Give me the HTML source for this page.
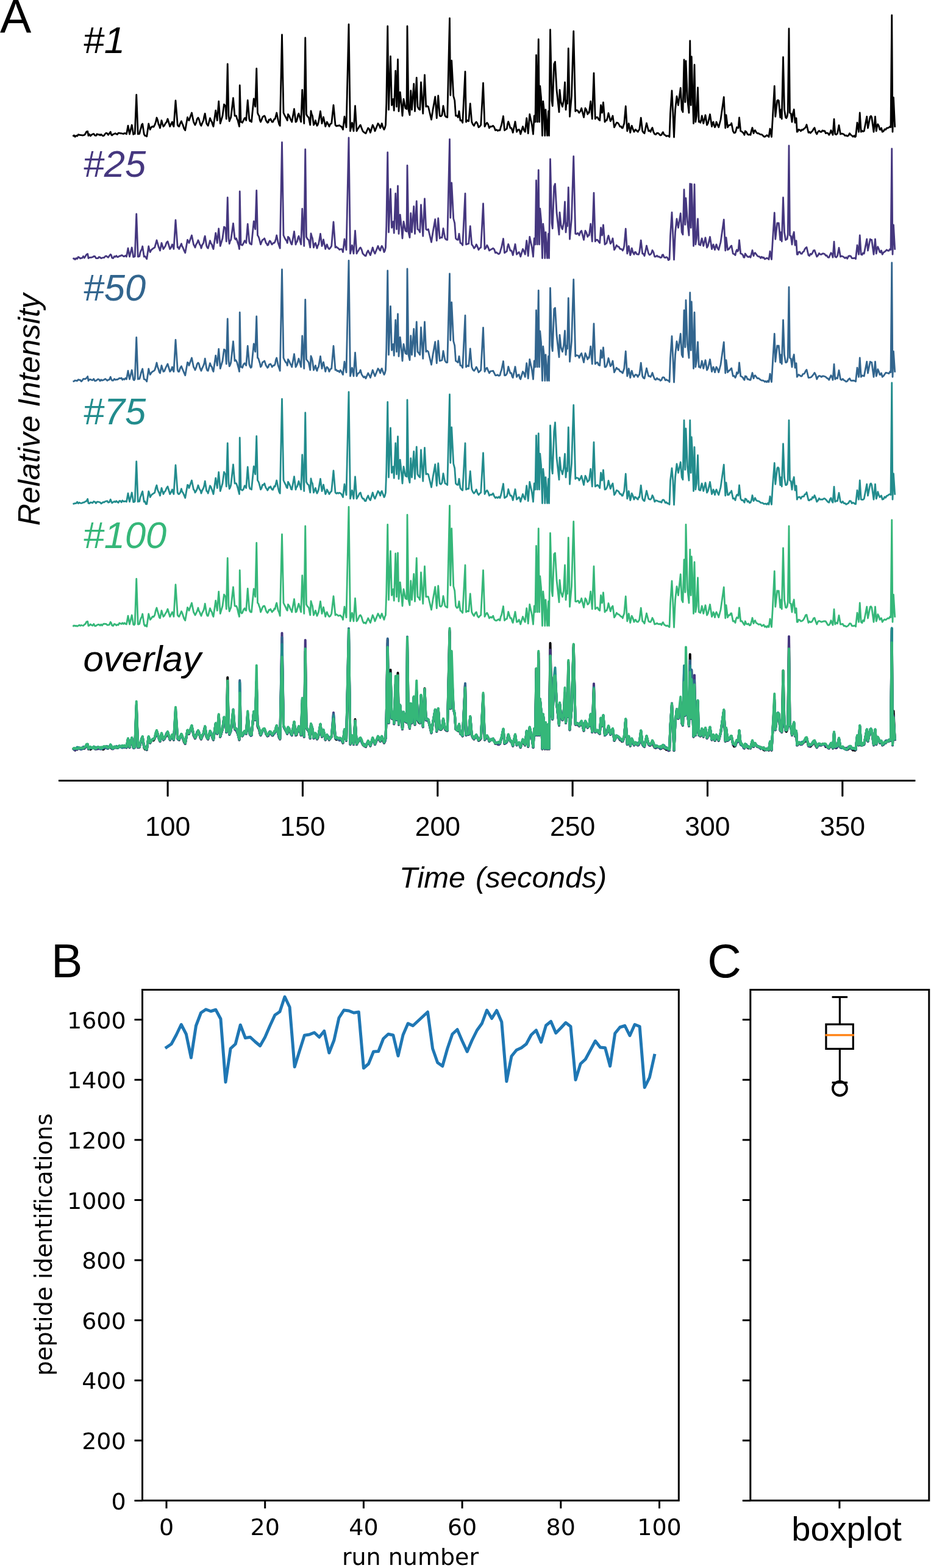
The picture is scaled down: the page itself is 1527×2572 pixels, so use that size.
<!DOCTYPE html>
<html><head><meta charset="utf-8"><title>Figure</title>
<style>
html,body{margin:0;padding:0;background:#fff;}
svg{display:block}
.lab{font-family:"Liberation Sans",Arial,sans-serif}
.it{font-family:"Liberation Sans",Arial,sans-serif;font-style:italic}
.dv{font-family:"DejaVu Sans",sans-serif;font-variant-ligatures:none;font-kerning:none}
</style></head><body>
<svg width="1527" height="2572" viewBox="0 0 1527 2572">
<rect width="1527" height="2572" fill="#fff"/>

<text class="lab" x="0" y="54" font-size="77">A</text>
<text class="lab" x="84" y="1602.8" font-size="77">B</text>
<text class="lab" x="1160.3" y="1602.8" font-size="77">C</text>
<defs><path id="tr1" d="M119.5 223.75L121.33 221.87L123.17 224.31L125 222.5L126.67 223.14L128.33 220.69L130 221.25L131.67 221.48L133.33 221.55L135 222L136.67 221.77L138.33 221.49L140 219.5L141.88 215.88L143.75 215.5L145 222.5L146.67 220.2L148.33 223.01L150 221.25L151.88 220.11L153.75 219.5L155.62 222.05L157.5 222.5L159.17 219.84L160.83 220.95L162.5 220.5L164.17 221.89L165.83 220.42L167.5 222L169.17 222.95L170.83 221.94L172.5 219.5L174.17 218.21L175.83 218.77L177.5 221.25L179.38 218.92L181.25 216.25L182.5 220.88L183.75 222L185.62 220.27L187.5 219.5L189.17 218.7L190.83 219.86L192.5 220.5L194.17 218.03L195.83 218.22L197.5 218.75L199.17 218.75L200.83 219.23L202.5 219.5L204.17 218.6L205.83 218.76L207.5 220L210 206.25L212.5 220L216.25 205L218.75 220.5L220 218.88L221.25 219.5L223.75 155.5L226.25 220L227.5 219.59L228.75 219.5L230 213.91L231.25 210L232.5 204.59L233.75 203L236.25 220L237.75 222.6L239.25 222.73L240.75 223.75L243.75 203L245 208.32L246.25 212.5L248.12 208.74L250 207.5L251.88 208.22L253.75 205L255.38 200.44L257 193L258.5 196.86L260 203.75L261.25 206.21L262.5 210L265 197.5L266.5 203.39L268 207.5L269.62 205.84L271.25 202.5L273.12 200.5L275 195L278.75 207.5L280.62 203.44L282.5 200L283.75 205.07L285 207.5L288 165L291.25 205L292.5 206.93L293.75 207.5L295.62 202.34L297.5 198.75L298.75 202.23L300 205L301.88 210.9L303.75 213.75L307.5 192.5L308.75 196.38L310 197.5L314.5 185L317.5 200L318.75 202.52L320 205L321.67 201.36L323.33 195.14L325 193L326.25 195.47L327.5 200L328.75 204.31L330 206.25L331.88 201.53L333.75 197.5L335 190.57L336.25 186.25L338.75 202.5L340 204.57L341.25 206.25L344.5 193.75L346 197.69L347.5 200L348.75 204.45L350 207.5L353.75 181.25L356.25 197.5L358.75 166.25L361.25 202.5L365 190L367.5 171.25L368.75 172.62L370 175L371.25 195L373.25 105L375 190L376.25 198.75L377.5 195.38L378.75 192.5L382.5 160.75L385 190L386.25 190.03L387.5 190L388.75 194.86L390 197.5L391.25 202.58L392.5 207.5L393.25 140L395 200L396.25 200.2L397.5 201.25L399.38 197.46L401.25 193.75L402.5 193.74L403.75 197.5L406.25 164.5L408.75 195L410 198.75L411.25 197.55L412.5 200L416.25 162L418.75 175L420.75 112.5L422.5 185L423.75 188.31L425 190L426.25 196.93L427.5 200L429 196.62L430.5 192.5L432.12 190.82L433.75 190L435 192.43L436.25 197.5L437.5 199.38L438.75 201.25L440 200.68L441.25 196.25L442.5 196.71L443.75 195L445 197.66L446.25 200L447.5 200.19L448.75 197.5L450 195.18L451.25 195L452.5 190.06L453.75 185L456.25 197.5L457.75 203.68L459.25 206.25L462.5 57L465 185L466.88 189.06L468.75 192.5L470 194.84L471.25 197.5L472.5 187.5L474.38 190.33L476.25 195L477.5 197.69L478.75 200L482.5 178.75L485 200L486.25 199.33L487.5 195L488.75 188.65L490 186.25L493.75 200L495.75 147.5L498.75 202.5L500.75 62L502.5 187.5L504.38 191.13L506.25 192.5L508.75 205L510 182L511.25 187.28L512.5 190L514.5 205L516 202.79L517.5 197.5L518.75 202.84L520 206.25L521.25 204.36L522.5 200L525.5 182.5L528 202.5L529.25 197.32L530.5 192L533.75 207.5L535 204L536.25 200L538.12 203.45L540 207.5L541.88 203.22L543.75 202.5L547 172.5L550 205L551.67 206.9L553.33 206.11L555 206.25L556.67 205.47L558.33 207.1L560 207.5L561.25 209.94L562.5 212.5L565 191.25L568 208.75L572 40L574.5 215L577.5 201.25L580 215L582.5 173.75L585 215L586.5 211.93L588 210L589.62 206.88L591.25 205L593.12 210.15L595 215L596.67 216.74L598.33 217.95L600 218.75L601.88 214.21L603.75 210L605.62 211.86L607.5 217.5L611.25 205L613.12 208.92L615 215L620 202.5L621.88 204.96L623.75 210L625 206.59L626.25 202.5L628.12 208.94L630 212.5L631.25 209.94L632.5 205L633.75 170L635.75 43L637.5 180L640.5 92.5L642.5 172.5L643.75 168.69L645 162.5L646.25 181.25L648.75 116.25L650.5 175L652.5 97.5L654 182.5L656.25 151.25L658.75 175L660 190L662 162.5L665 177.5L667 178.75L668 43L670 180L672 188.75L673.75 148.75L675.5 180L678.75 137.5L680.5 182.5L683.25 127.5L685 175L686.88 178.77L688.75 180L690.5 135L693.75 186.25L696.5 123L698.75 175L700.62 174.02L702.5 175L707.5 196.25L710 180L713.75 158.75L716.25 193.75L718.75 157L721.25 190L723.12 190.74L725 188.75L727 173.75L730 190L731.88 191.94L733.75 192.5L737.5 30L738.75 156.25L740.75 99.5L743.75 157.5L745.75 165L747.5 190L749.38 189.58L751.25 192.5L753 182.5L755 197.5L756.88 197.44L758.75 201.25L763 117.5L764.5 200L766.62 197.43L768.75 198.75L771.25 170L773.75 200L775.62 204.15L777.5 206.25L779.38 202.12L781.25 200L783.12 202.81L785 208.75L786.88 207.37L788.75 205L792.5 136.25L795 207.5L796.88 203.75L798.75 201.25L800.62 203.9L802.5 210L804.58 207.39L806.67 207.61L808.75 206.25L810.62 208.67L812.5 213.75L814.38 212.84L816.25 214.6L818.12 213.57L820 213.75L821.25 208.66L822.5 205L825.5 190.5L827.5 213.75L829.38 212.4L831.25 211.25L832.5 203.47L833.75 199.5L835.38 204.3L837 210L838.75 210L840 213.43L841.25 217.5L845 199.5L847.5 216.25L849.38 213.13L851.25 212.5L852.5 214.69L853.75 220L857.5 207.5L859.38 213.47L861.25 216.25L863.75 193.75L866.25 218.75L868.75 187.5L872.5 205L874.5 220L876.25 190L878 200L879.5 90.5L881.25 200L883.25 64.5L884.5 200L885.75 141.25L887.5 160L889.5 222.5L890.75 166.25L892.5 182.5L893.75 222.5L895 180L897.5 222.5L899.5 182.5L900.5 222.5L902.5 48.75L905 165L906.25 173.75L908.75 105L910.5 101.25L913 147.5L917 183.75L918 147.5L920 167.5L921.25 171.29L922.5 175L924.5 165L926.5 135L928 180L929.5 165L930.5 170L932.25 79.5L934.5 191.25L937.5 157.5L940.75 51.25L943.75 182.5L945.62 180.71L947.5 181.25L948.75 183.55L950 185L951.88 182.52L953.75 177.5L957.5 192.5L960 177.5L961.88 180.58L963.75 187.5L965 184.32L966.25 185L968.75 166.25L971.25 195L974 120L976.25 195L978.12 192.34L980 192.5L981.88 195.88L983.75 197.5L985.5 172.5L987.5 185L989.5 168L992 200L993.5 197.39L995 197.5L996.5 192.32L998 185.5L1001.25 198.75L1003.12 195.09L1005 190L1007.5 208.75L1009.38 205.18L1011.25 201.25L1013.12 201.38L1015 203.75L1016.88 207.53L1018.75 207.5L1020 209.94L1021.25 210L1022.5 206.32L1023.75 202.5L1026.25 174.25L1028.75 215L1031.25 202.5L1033.75 217.5L1035 210.77L1036.25 206.25L1038.12 211.84L1040 216.25L1041.25 213.95L1042.5 212.5L1044.38 214.68L1046.25 216.25L1047.5 213.66L1048.75 212.5L1051.25 193.25L1053.75 215L1055.38 217.4L1057 218.75L1060.5 202L1063.75 215L1065.38 213.86L1067 216.25L1068.5 212.07L1070 209.5L1071.88 216.62L1073.75 220L1075.62 220.63L1077.5 218.25L1079.38 218.35L1081.25 220L1083.12 222.06L1085 221.25L1086.25 218.24L1087.5 216.75L1089.38 221.01L1091.25 221.75L1092.94 223.41L1094.62 222.79L1096.31 222.82L1098 224.5L1099.5 185L1102 148.75L1103.75 185L1105.5 225L1107.5 180L1110 158L1112.5 172.5L1116.25 144.25L1118.25 180L1120 183.75L1122 98L1123.75 167.5L1125 100L1127.5 162.5L1130 185L1131.75 67L1133.25 172.5L1134.25 93L1135.5 136.25L1137.5 202.5L1139 106.25L1140.75 200L1142.5 190L1144.5 143.75L1146.25 200L1147.5 198.66L1148.75 201.25L1150 197.14L1151.25 190L1153.75 202.5L1157 188.75L1159.5 205L1161.25 202L1164.5 187.5L1167.5 207.5L1168.75 201.9L1170 200L1171.25 205.65L1172.5 208.75L1173.75 206.22L1175 200L1176.88 204.66L1178.75 208.75L1182 196.25L1187.25 159.25L1189.75 210L1191 188.75L1193.5 208.75L1195.38 205.56L1197.25 205L1198.5 204.97L1199.75 202L1202.25 215L1204.12 218.15L1206 217.5L1207.25 213.94L1208.5 208.75L1209.75 209.41L1211 210L1212.5 193L1214.75 215L1216.62 215.76L1218.5 217.5L1219.75 218.76L1221 221.25L1222.25 215L1224.12 216.32L1226 220L1227.67 221.11L1229.33 220.57L1231 221.25L1232.5 214.15L1234 209.5L1236 218.75L1237.25 214.67L1238.5 213.75L1240.38 216.91L1242.25 218.75L1244.12 218.56L1246 220L1247.67 220.67L1249.33 220.63L1251 222L1252.67 223.9L1254.33 224.43L1256 223.25L1257.67 221.74L1259.33 222.89L1261 224.5L1263 211.25L1265.5 224.5L1267.25 195L1270.25 141.25L1271.75 191.25L1274.75 165L1276 164.31L1277.25 165L1279.75 192.5L1281 180L1282.25 195L1284.5 93.75L1286.5 180L1288.5 192.5L1289.75 193.82L1291 191.25L1292.25 183.75L1294 47L1295.5 185L1297.25 186.25L1299 200L1300.5 186.25L1302.25 179.5L1304 201.25L1306 193.75L1307.25 216.25L1308.5 215.51L1309.75 212.5L1311.62 213.11L1313.5 215L1315.17 212.6L1316.83 213.2L1318.5 211.25L1320 210.35L1321.5 208.48L1323 204.5L1326 217.5L1327.67 216.46L1329.33 218.2L1331 216.25L1332.67 214.75L1334.33 211.69L1336 209.5L1337.88 216.69L1339.75 220L1341.62 216.19L1343.5 214.5L1345.38 216.28L1347.25 216.25L1349.12 213.96L1351 215L1352.67 214.68L1354.33 218.64L1356 218L1357.88 218.48L1359.75 221.25L1361.38 218.54L1363 213.75L1364.5 217.9L1366 221.25L1368 195.5L1369.75 220L1371.62 220.74L1373.5 218.75L1376 205.5L1378.5 220L1380.38 219.22L1382.25 219.5L1384.12 220.36L1386 222.5L1387.88 222.04L1389.75 223.25L1391.62 222.47L1393.5 218.75L1395.38 221.04L1397.25 222.5L1399.12 224.32L1401 222.5L1402.25 224.67L1403.5 223.75L1406 201.25L1408.5 216.25L1410.25 185L1412.25 216.25L1413.92 214.37L1415.58 215.62L1417.25 215L1421.75 191.25L1423.5 210L1427.25 191.25L1428.5 190.29L1429.75 192.5L1433 216.25L1435.5 191.25L1437.25 215L1438.5 207.53L1439.75 203.75L1441.38 206.42L1443 212.5L1444.25 212.71L1445.5 210L1447.25 216.25L1449.12 215.28L1451 212L1452.67 212.65L1454.33 210.03L1456 210L1457.88 209.21L1459.75 207.5L1461 208.75L1462.75 25L1464 216.25L1465.5 160L1467.75 208.75" fill="none" stroke-linejoin="round"/><path id="tr25" d="M119.5 223.75L121.33 222.84L123.17 224.62L125 222.5L126.67 223.46L128.33 220.52L130 221.25L131.67 222.99L133.33 222.3L135 222L136.67 219.34L138.33 222.15L140 219.5L141.88 216.52L143.75 215.5L145 222.5L146.67 221.31L148.33 221.36L150 221.25L151.88 220.73L153.75 219.5L155.62 219.5L157.5 222.5L159.17 222.58L160.83 222.5L162.5 220.5L164.17 221.05L165.83 222.68L167.5 222L169.17 221.67L170.83 221.63L172.5 219.5L174.17 218.81L175.83 220.1L177.5 221.25L179.38 218.63L181.25 216.25L182.5 217.54L183.75 222L185.62 222.64L187.5 219.5L189.17 220.38L190.83 218.56L192.5 220.5L194.17 220.25L195.83 218.99L197.5 218.75L199.17 217.76L200.83 217.89L202.5 219.5L204.17 219.51L205.83 218.11L207.5 220L210 206.25L212.5 220L216.25 205L218.75 220.5L220 220.25L221.25 219.5L223.75 150L226.25 220L227.5 219.81L228.75 219.5L230 213.26L231.25 210L232.5 208L233.75 203L236.25 220L237.75 219.41L239.25 221.19L240.75 223.75L243.75 203L245 209.02L246.25 212.5L248.12 208.88L250 207.5L251.88 205.95L253.75 205L255.38 199.24L257 193L258.5 198.12L260 203.75L261.25 206.85L262.5 210L265 197.5L266.5 202.52L268 207.5L269.62 204.93L271.25 202.5L273.12 196.98L275 195L278.75 207.5L280.62 205.02L282.5 200L283.75 202.88L285 207.5L288 160L291.25 205L292.5 204.44L293.75 207.5L295.62 202.76L297.5 198.75L298.75 203.13L300 205L301.88 209.89L303.75 213.75L307.5 192.5L308.75 194.83L310 197.5L314.5 185L317.5 200L318.75 202.41L320 205L321.67 199.88L323.33 197.47L325 193L326.25 195.9L327.5 200L328.75 201.38L330 206.25L331.88 200.4L333.75 197.5L335 190.25L336.25 186.25L338.75 202.5L340 205.11L341.25 206.25L344.5 193.75L346 198.4L347.5 200L348.75 204.77L350 207.5L353.75 181.25L356.25 197.5L358.75 174L361.25 202.5L365 190L367.5 171.25L368.75 172L370 175L371.25 195L373.25 123L375 190L376.25 198.75L377.5 194.21L378.75 192.5L382.5 165.5L385 190L386.25 191.8L387.5 190L388.75 193.25L390 197.5L391.25 201.17L392.5 207.5L393.25 113L395 200L396.25 200.91L397.5 201.25L399.38 197.97L401.25 193.75L402.5 195.79L403.75 197.5L406.25 166.5L408.75 195L410 198.75L411.25 199.18L412.5 200L416.25 162L418.75 175L420.75 111.5L422.5 185L423.75 186.72L425 190L426.25 194.98L427.5 200L429 196.08L430.5 192.5L432.12 191.98L433.75 190L435 193.54L436.25 197.5L437.5 198.79L438.75 201.25L440 200.69L441.25 196.25L442.5 194.07L443.75 195L445 198.52L446.25 200L447.5 198.42L448.75 197.5L450 197.47L451.25 195L452.5 190.83L453.75 185L456.25 197.5L457.75 202.14L459.25 206.25L462.5 32.5L465 185L466.88 189.19L468.75 192.5L470 193.92L471.25 197.5L472.5 187.5L474.38 189.31L476.25 195L477.5 198.49L478.75 200L482.5 178.75L485 200L486.25 196.54L487.5 195L488.75 189.07L490 186.25L493.75 200L495.75 141.5L498.75 202.5L500.75 44L502.5 187.5L504.38 191.25L506.25 192.5L508.75 205L510 182L511.25 186.36L512.5 190L514.5 205L516 199.38L517.5 197.5L518.75 201.95L520 206.25L521.25 201.78L522.5 200L525.5 182.5L528 202.5L529.25 198.71L530.5 192L533.75 207.5L535 202.83L536.25 200L538.12 205.51L540 207.5L541.88 205.45L543.75 202.5L547 163L550 205L551.67 203.73L553.33 205.47L555 206.25L556.67 208.53L558.33 207.89L560 207.5L561.25 208.62L562.5 212.5L565 191.25L568 208.75L572 25L574.5 215L577.5 201.25L580 215L582.5 177.5L585 215L586.5 211.97L588 210L589.62 206.59L591.25 205L593.12 208.37L595 215L596.67 216.62L598.33 218.28L600 218.75L601.88 213.24L603.75 210L605.62 213.96L607.5 217.5L611.25 205L613.12 211.44L615 215L620 202.5L621.88 207.82L623.75 210L625 204.94L626.25 202.5L628.12 205.8L630 212.5L631.25 210.4L632.5 205L633.75 170L635.75 49L637.5 180L640.5 109L642.5 172.5L643.75 166.81L645 162.5L646.25 181.25L648.75 116.5L650.5 175L652.5 104L654 182.5L656.25 151.25L658.75 175L660 190L662 162.5L665 177.5L667 178.75L668 70.5L670 180L672 188.75L673.75 148.75L675.5 180L678.75 137.5L680.5 182.5L683.25 129L685 175L686.88 176.16L688.75 180L690.5 135L693.75 186.25L696.5 125L698.75 175L700.62 176.2L702.5 175L707.5 196.25L710 180L713.75 158.75L716.25 193.75L718.75 157L721.25 190L723.12 188.43L725 188.75L727 173.75L730 190L731.88 192.12L733.75 192.5L737.5 27.5L738.75 156.25L740.75 99L743.75 157.5L745.75 165L747.5 190L749.38 192.01L751.25 192.5L753 182.5L755 197.5L756.88 198.55L758.75 201.25L763 116.5L764.5 200L766.62 199.22L768.75 198.75L771.25 170L773.75 200L775.62 202.28L777.5 206.25L779.38 204.35L781.25 200L783.12 203.51L785 208.75L786.88 205.97L788.75 205L792.5 133L795 207.5L796.88 205.8L798.75 201.25L800.62 204.73L802.5 210L804.58 208.5L806.67 207.56L808.75 206.25L810.62 208.01L812.5 213.75L814.38 212.9L816.25 214.72L818.12 215.67L820 213.75L821.25 208.74L822.5 205L825.5 190.5L827.5 213.75L829.38 212.41L831.25 211.25L832.5 203.6L833.75 199.5L835.38 204.7L837 210L838.75 210L840 213.19L841.25 217.5L845 199.5L847.5 216.25L849.38 214.38L851.25 212.5L852.5 215.44L853.75 220L857.5 207.5L859.38 211.13L861.25 216.25L863.75 193.75L866.25 218.75L868.75 187.5L872.5 205L874.5 220L876.25 190L878 200L879.5 95L881.25 200L883.25 78L884.5 200L885.75 141.25L887.5 160L889.5 222.5L890.75 166.25L892.5 182.5L893.75 222.5L895 180L897.5 222.5L899.5 182.5L900.5 222.5L902.5 60L905 165L906.25 173.75L908.75 105L910.5 100.5L913 147.5L917 183.75L918 147.5L920 167.5L921.25 172.9L922.5 175L924.5 165L926.5 130L928 180L929.5 165L930.5 170L932.25 106.5L934.5 191.25L937.5 157.5L940.75 55.5L943.75 182.5L945.62 182.98L947.5 181.25L948.75 182.57L950 185L951.88 179.53L953.75 177.5L957.5 192.5L960 177.5L961.88 180.71L963.75 187.5L965 184.64L966.25 185L968.75 166.25L971.25 195L974 115.5L976.25 195L978.12 192.27L980 192.5L981.88 195.33L983.75 197.5L985.5 172.5L987.5 185L989.5 168L992 200L993.5 198.83L995 197.5L996.5 190.02L998 185.5L1001.25 198.75L1003.12 195.89L1005 190L1007.5 208.75L1009.38 205.68L1011.25 201.25L1013.12 203.34L1015 203.75L1016.88 207.21L1018.75 207.5L1020 208.01L1021.25 210L1022.5 207.86L1023.75 202.5L1026.25 174.25L1028.75 215L1031.25 202.5L1033.75 217.5L1035 213.78L1036.25 206.25L1038.12 212.89L1040 216.25L1041.25 212.56L1042.5 212.5L1044.38 215.78L1046.25 216.25L1047.5 216.31L1048.75 212.5L1051.25 193.25L1053.75 215L1055.38 215.3L1057 218.75L1060.5 202L1063.75 215L1065.38 217.09L1067 216.25L1068.5 214.14L1070 209.5L1071.88 212.88L1073.75 220L1075.62 219.96L1077.5 218.25L1079.38 220.16L1081.25 220L1083.12 221.62L1085 221.25L1086.25 217.23L1087.5 216.75L1089.38 221.13L1091.25 221.75L1092.94 220.73L1094.62 221.46L1096.31 225.6L1098 224.5L1099.5 185L1102 147.5L1103.75 185L1105.5 225L1107.5 180L1110 158L1112.5 172.5L1116.25 149L1118.25 180L1120 183.75L1122 110L1123.75 167.5L1125 124L1127.5 162.5L1130 185L1131.75 100.5L1133.25 172.5L1134.25 101L1135.5 136.25L1137.5 202.5L1139 101.5L1140.75 200L1142.5 190L1144.5 158L1146.25 200L1147.5 200.55L1148.75 201.25L1150 194.34L1151.25 190L1153.75 202.5L1157 188.75L1159.5 205L1161.25 202L1164.5 187.5L1167.5 207.5L1168.75 203.33L1170 200L1171.25 204.87L1172.5 208.75L1173.75 203.45L1175 200L1176.88 206.03L1178.75 208.75L1182 196.25L1187.25 159.25L1189.75 210L1191 188.75L1193.5 208.75L1195.38 207.58L1197.25 205L1198.5 203.05L1199.75 202L1202.25 215L1204.12 215.72L1206 217.5L1207.25 211.59L1208.5 208.75L1209.75 211.32L1211 210L1212.5 193L1214.75 215L1216.62 215.48L1218.5 217.5L1219.75 221.12L1221 221.25L1222.25 215L1224.12 217.66L1226 220L1227.67 220.57L1229.33 219.54L1231 221.25L1232.5 215.39L1234 209.5L1236 218.75L1237.25 214.64L1238.5 213.75L1240.38 216.04L1242.25 218.75L1244.12 219.83L1246 220L1247.67 222.37L1249.33 220.22L1251 222L1252.67 221.14L1254.33 223.98L1256 223.25L1257.67 222.2L1259.33 222.86L1261 224.5L1263 211.25L1265.5 224.5L1267.25 195L1270.25 148L1271.75 191.25L1274.75 165L1276 164.91L1277.25 165L1279.75 192.5L1281 180L1282.25 195L1284.5 123L1286.5 180L1288.5 192.5L1289.75 191.59L1291 191.25L1292.25 183.75L1294 38L1295.5 185L1297.25 186.25L1299 200L1300.5 186.25L1302.25 179.5L1304 201.25L1306 193.75L1307.25 216.25L1308.5 216.35L1309.75 212.5L1311.62 212.01L1313.5 215L1315.17 215.23L1316.83 212.35L1318.5 211.25L1320 207.55L1321.5 205.7L1323 204.5L1326 217.5L1327.67 218.72L1329.33 215.37L1331 216.25L1332.67 213.69L1334.33 209.91L1336 209.5L1337.88 214.7L1339.75 220L1341.62 218.05L1343.5 214.5L1345.38 216.32L1347.25 216.25L1349.12 214.99L1351 215L1352.67 215.7L1354.33 218.3L1356 218L1357.88 221.13L1359.75 221.25L1361.38 217.28L1363 213.75L1364.5 215.72L1366 221.25L1368 195.5L1369.75 220L1371.62 221.13L1373.5 218.75L1376 205.5L1378.5 220L1380.38 219.13L1382.25 219.5L1384.12 220.9L1386 222.5L1387.88 221.06L1389.75 223.25L1391.62 219.09L1393.5 218.75L1395.38 219.08L1397.25 222.5L1399.12 222.68L1401 222.5L1402.25 222.17L1403.5 223.75L1406 201.25L1408.5 216.25L1410.25 185L1412.25 216.25L1413.92 217.01L1415.58 214L1417.25 215L1421.75 191.25L1423.5 210L1427.25 191.25L1428.5 192.5L1429.75 192.5L1433 216.25L1435.5 191.25L1437.25 215L1438.5 207.46L1439.75 203.75L1441.38 207.56L1443 212.5L1444.25 213.02L1445.5 210L1447.25 216.25L1449.12 213.15L1451 212L1452.67 210.59L1454.33 208.79L1456 210L1457.88 210.24L1459.75 207.5L1461 208.75L1462.75 43L1464 216.25L1465.5 168L1467.75 208.75" fill="none" stroke-linejoin="round"/><path id="tr50" d="M119.5 223.75L121.33 223.32L123.17 221.98L125 222.5L126.67 222.63L128.33 220.64L130 221.25L131.67 221.39L133.33 223.63L135 222L136.67 219.51L138.33 219.6L140 219.5L141.88 218.21L143.75 215.5L145 222.5L146.67 220.42L148.33 220.28L150 221.25L151.88 221.68L153.75 219.5L155.62 222.92L157.5 222.5L159.17 221.11L160.83 219.92L162.5 220.5L164.17 222.89L165.83 220.82L167.5 222L169.17 221.58L170.83 220.76L172.5 219.5L174.17 220.62L175.83 222.33L177.5 221.25L179.38 220.6L181.25 216.25L182.5 219.9L183.75 222L185.62 222.05L187.5 219.5L189.17 221.01L190.83 220.74L192.5 220.5L194.17 219.64L195.83 218.24L197.5 218.75L199.17 218.06L200.83 220.97L202.5 219.5L204.17 220.47L205.83 218.26L207.5 220L210 206.25L212.5 220L216.25 205L218.75 220.5L220 221.64L221.25 219.5L223.75 151.5L226.25 220L227.5 218.83L228.75 219.5L230 215.52L231.25 210L232.5 206.34L233.75 203L236.25 220L237.75 220.33L239.25 221.34L240.75 223.75L243.75 203L245 208.07L246.25 212.5L248.12 209.65L250 207.5L251.88 206.75L253.75 205L255.38 199.78L257 193L258.5 199.65L260 203.75L261.25 208.29L262.5 210L265 197.5L266.5 203L268 207.5L269.62 206.87L271.25 202.5L273.12 198.73L275 195L278.75 207.5L280.62 205.3L282.5 200L283.75 205.01L285 207.5L288 155.5L291.25 205L292.5 207.52L293.75 207.5L295.62 201.63L297.5 198.75L298.75 202.16L300 205L301.88 209.44L303.75 213.75L307.5 192.5L308.75 193.37L310 197.5L314.5 185L317.5 200L318.75 201.97L320 205L321.67 201.07L323.33 195.03L325 193L326.25 194.54L327.5 200L328.75 203.47L330 206.25L331.88 201.52L333.75 197.5L335 193.79L336.25 186.25L338.75 202.5L340 205.78L341.25 206.25L344.5 193.75L346 198.19L347.5 200L348.75 204.96L350 207.5L353.75 181.25L356.25 197.5L358.75 170.5L361.25 202.5L365 190L367.5 171.25L368.75 172.02L370 175L371.25 195L373.25 121L375 190L376.25 198.75L377.5 196.53L378.75 192.5L382.5 158L385 190L386.25 188.39L387.5 190L388.75 192.3L390 197.5L391.25 202L392.5 207.5L393.25 110.5L395 200L396.25 199.61L397.5 201.25L399.38 195.63L401.25 193.75L402.5 195.7L403.75 197.5L406.25 165.5L408.75 195L410 198.75L411.25 201.24L412.5 200L416.25 162L418.75 175L420.75 117L422.5 185L423.75 185.81L425 190L426.25 193.95L427.5 200L429 197.96L430.5 192.5L432.12 191.36L433.75 190L435 193.61L436.25 197.5L437.5 199.05L438.75 201.25L440 200.03L441.25 196.25L442.5 195.51L443.75 195L445 197.11L446.25 200L447.5 198.2L448.75 197.5L450 197.35L451.25 195L452.5 188.08L453.75 185L456.25 197.5L457.75 201.65L459.25 206.25L462.5 40L465 185L466.88 189.31L468.75 192.5L470 193.04L471.25 197.5L472.5 187.5L474.38 190.52L476.25 195L477.5 196.89L478.75 200L482.5 178.75L485 200L486.25 198.08L487.5 195L488.75 190.7L490 186.25L493.75 200L495.75 149L498.75 202.5L500.75 89.5L502.5 187.5L504.38 189.99L506.25 192.5L508.75 205L510 182L511.25 185.21L512.5 190L514.5 205L516 200.97L517.5 197.5L518.75 203.58L520 206.25L521.25 201.57L522.5 200L525.5 182.5L528 202.5L529.25 195.6L530.5 192L533.75 207.5L535 202.39L536.25 200L538.12 201.95L540 207.5L541.88 203.57L543.75 202.5L547 165.5L550 205L551.67 204.66L553.33 206.78L555 206.25L556.67 208.5L558.33 205.15L560 207.5L561.25 210L562.5 212.5L565 191.25L568 208.75L572 25.5L574.5 215L577.5 201.25L580 215L582.5 176.5L585 215L586.5 211.46L588 210L589.62 209.1L591.25 205L593.12 211.98L595 215L596.67 217.04L598.33 215.61L600 218.75L601.88 214.35L603.75 210L605.62 213.48L607.5 217.5L611.25 205L613.12 210.16L615 215L620 202.5L621.88 205.14L623.75 210L625 204.36L626.25 202.5L628.12 207.92L630 212.5L631.25 210.06L632.5 205L633.75 170L635.75 42L637.5 180L640.5 100.5L642.5 172.5L643.75 166.84L645 162.5L646.25 181.25L648.75 123L650.5 175L652.5 113L654 182.5L656.25 151.25L658.75 175L660 190L662 162.5L665 177.5L667 178.75L668 39L670 180L672 188.75L673.75 148.75L675.5 180L678.75 137.5L680.5 182.5L683.25 126L685 175L686.88 177.01L688.75 180L690.5 135L693.75 186.25L696.5 126L698.75 175L700.62 173.18L702.5 175L707.5 196.25L710 180L713.75 158.75L716.25 193.75L718.75 157L721.25 190L723.12 189.51L725 188.75L727 173.75L730 190L731.88 192.51L733.75 192.5L737.5 47L738.75 156.25L740.75 94L743.75 157.5L745.75 165L747.5 190L749.38 191.17L751.25 192.5L753 182.5L755 197.5L756.88 197.88L758.75 201.25L763 115.5L764.5 200L766.62 197.83L768.75 198.75L771.25 170L773.75 200L775.62 204.53L777.5 206.25L779.38 203.97L781.25 200L783.12 203.4L785 208.75L786.88 206.93L788.75 205L792.5 135.5L795 207.5L796.88 202.87L798.75 201.25L800.62 205.86L802.5 210L804.58 206.86L806.67 206.7L808.75 206.25L810.62 209.94L812.5 213.75L814.38 213.61L816.25 212.93L818.12 214.41L820 213.75L821.25 208.37L822.5 205L825.5 190.5L827.5 213.75L829.38 213.63L831.25 211.25L832.5 206.7L833.75 199.5L835.38 205.04L837 210L838.75 210L840 215.59L841.25 217.5L845 199.5L847.5 216.25L849.38 213.37L851.25 212.5L852.5 218.16L853.75 220L857.5 207.5L859.38 210.07L861.25 216.25L863.75 193.75L866.25 218.75L868.75 187.5L872.5 205L874.5 220L876.25 190L878 200L879.5 107L881.25 200L883.25 74.5L884.5 200L885.75 141.25L887.5 160L889.5 222.5L890.75 166.25L892.5 182.5L893.75 222.5L895 180L897.5 222.5L899.5 182.5L900.5 222.5L902.5 70.5L905 165L906.25 173.75L908.75 105L910.5 103L913 147.5L917 183.75L918 147.5L920 167.5L921.25 171.5L922.5 175L924.5 165L926.5 140.5L928 180L929.5 165L930.5 170L932.25 87L934.5 191.25L937.5 157.5L940.75 56.5L943.75 182.5L945.62 180.61L947.5 181.25L948.75 181.58L950 185L951.88 180.36L953.75 177.5L957.5 192.5L960 177.5L961.88 182.02L963.75 187.5L965 184.26L966.25 185L968.75 166.25L971.25 195L974 129L976.25 195L978.12 192.88L980 192.5L981.88 196.69L983.75 197.5L985.5 172.5L987.5 185L989.5 168L992 200L993.5 199.96L995 197.5L996.5 192.17L998 185.5L1001.25 198.75L1003.12 196.23L1005 190L1007.5 208.75L1009.38 204.94L1011.25 201.25L1013.12 203.53L1015 203.75L1016.88 207.2L1018.75 207.5L1020 208.85L1021.25 210L1022.5 206.23L1023.75 202.5L1026.25 174.25L1028.75 215L1031.25 202.5L1033.75 217.5L1035 210.5L1036.25 206.25L1038.12 213L1040 216.25L1041.25 213.71L1042.5 212.5L1044.38 213.16L1046.25 216.25L1047.5 213.3L1048.75 212.5L1051.25 193.25L1053.75 215L1055.38 218.01L1057 218.75L1060.5 202L1063.75 215L1065.38 214.78L1067 216.25L1068.5 213.57L1070 209.5L1071.88 215.29L1073.75 220L1075.62 220.89L1077.5 218.25L1079.38 220.38L1081.25 220L1083.12 222.43L1085 221.25L1086.25 217.86L1087.5 216.75L1089.38 217.4L1091.25 221.75L1092.94 220.56L1094.62 221.91L1096.31 222.16L1098 224.5L1099.5 185L1102 149.5L1103.75 185L1105.5 225L1107.5 180L1110 158L1112.5 172.5L1116.25 145.5L1118.25 180L1120 183.75L1122 107L1123.75 167.5L1125 90.5L1127.5 162.5L1130 185L1131.75 78L1133.25 172.5L1134.25 93L1135.5 136.25L1137.5 202.5L1139 110.5L1140.75 200L1142.5 190L1144.5 159L1146.25 200L1147.5 199.21L1148.75 201.25L1150 196.44L1151.25 190L1153.75 202.5L1157 188.75L1159.5 205L1161.25 202L1164.5 187.5L1167.5 207.5L1168.75 203.51L1170 200L1171.25 203.4L1172.5 208.75L1173.75 204.37L1175 200L1176.88 203.22L1178.75 208.75L1182 196.25L1187.25 159.25L1189.75 210L1191 188.75L1193.5 208.75L1195.38 206.32L1197.25 205L1198.5 203.05L1199.75 202L1202.25 215L1204.12 214.48L1206 217.5L1207.25 214.89L1208.5 208.75L1209.75 210.95L1211 210L1212.5 193L1214.75 215L1216.62 215.69L1218.5 217.5L1219.75 219.87L1221 221.25L1222.25 215L1224.12 215.6L1226 220L1227.67 219.93L1229.33 221.22L1231 221.25L1232.5 215.07L1234 209.5L1236 218.75L1237.25 214.72L1238.5 213.75L1240.38 216.17L1242.25 218.75L1244.12 218.36L1246 220L1247.67 221.17L1249.33 222.1L1251 222L1252.67 222.61L1254.33 224.28L1256 223.25L1257.67 224.83L1259.33 222.57L1261 224.5L1263 211.25L1265.5 224.5L1267.25 195L1270.25 145.5L1271.75 191.25L1274.75 165L1276 166.92L1277.25 165L1279.75 192.5L1281 180L1282.25 195L1284.5 123L1286.5 180L1288.5 192.5L1289.75 192.53L1291 191.25L1292.25 183.75L1294 69L1295.5 185L1297.25 186.25L1299 200L1300.5 186.25L1302.25 179.5L1304 201.25L1306 193.75L1307.25 216.25L1308.5 214.51L1309.75 212.5L1311.62 213.64L1313.5 215L1315.17 214.98L1316.83 211.7L1318.5 211.25L1320 209.67L1321.5 206.3L1323 204.5L1326 217.5L1327.67 217.32L1329.33 217.09L1331 216.25L1332.67 214.11L1334.33 212.12L1336 209.5L1337.88 212.9L1339.75 220L1341.62 216.12L1343.5 214.5L1345.38 214.91L1347.25 216.25L1349.12 214.98L1351 215L1352.67 215.49L1354.33 216.24L1356 218L1357.88 218.85L1359.75 221.25L1361.38 217.4L1363 213.75L1364.5 216.12L1366 221.25L1368 195.5L1369.75 220L1371.62 217.8L1373.5 218.75L1376 205.5L1378.5 220L1380.38 221.34L1382.25 219.5L1384.12 221.64L1386 222.5L1387.88 224.09L1389.75 223.25L1391.62 220.34L1393.5 218.75L1395.38 222.19L1397.25 222.5L1399.12 222.22L1401 222.5L1402.25 223.02L1403.5 223.75L1406 201.25L1408.5 216.25L1410.25 185L1412.25 216.25L1413.92 213.92L1415.58 214.26L1417.25 215L1421.75 191.25L1423.5 210L1427.25 191.25L1428.5 192.4L1429.75 192.5L1433 216.25L1435.5 191.25L1437.25 215L1438.5 210.43L1439.75 203.75L1441.38 207.35L1443 212.5L1444.25 212.52L1445.5 210L1447.25 216.25L1449.12 214.74L1451 212L1452.67 209.46L1454.33 209.65L1456 210L1457.88 210.73L1459.75 207.5L1461 208.75L1462.75 29L1464 216.25L1465.5 174.5L1467.75 208.75" fill="none" stroke-linejoin="round"/><path id="tr75" d="M119.5 223.75L121.33 223.14L123.17 222.66L125 222.5L126.67 220.25L128.33 222.74L130 221.25L131.67 222.19L133.33 222.43L135 222L136.67 221.06L138.33 221.02L140 219.5L141.88 219.03L143.75 215.5L145 222.5L146.67 222.85L148.33 221.05L150 221.25L151.88 221.96L153.75 219.5L155.62 220.27L157.5 222.5L159.17 220.17L160.83 220.17L162.5 220.5L164.17 220.99L165.83 222.95L167.5 222L169.17 220.56L170.83 220.98L172.5 219.5L174.17 219.16L175.83 218.78L177.5 221.25L179.38 220.65L181.25 216.25L182.5 219.42L183.75 222L185.62 220.6L187.5 219.5L189.17 220.54L190.83 218.69L192.5 220.5L194.17 221.43L195.83 218.54L197.5 218.75L199.17 220.84L200.83 217.92L202.5 219.5L204.17 219.52L205.83 219.06L207.5 220L210 206.25L212.5 220L216.25 205L218.75 220.5L220 220.46L221.25 219.5L223.75 154L226.25 220L227.5 217.99L228.75 219.5L230 212.97L231.25 210L232.5 205.8L233.75 203L236.25 220L237.75 219.48L239.25 223.75L240.75 223.75L243.75 203L245 206.23L246.25 212.5L248.12 209.23L250 207.5L251.88 206.34L253.75 205L255.38 197.46L257 193L258.5 200.19L260 203.75L261.25 206.04L262.5 210L265 197.5L266.5 202.76L268 207.5L269.62 203.85L271.25 202.5L273.12 197.73L275 195L278.75 207.5L280.62 204.27L282.5 200L283.75 204.58L285 207.5L288 160L291.25 205L292.5 207.43L293.75 207.5L295.62 204.93L297.5 198.75L298.75 203.61L300 205L301.88 209.15L303.75 213.75L307.5 192.5L308.75 193.08L310 197.5L314.5 185L317.5 200L318.75 201.13L320 205L321.67 202.52L323.33 198.9L325 193L326.25 196.69L327.5 200L328.75 201.16L330 206.25L331.88 200.96L333.75 197.5L335 192.83L336.25 186.25L338.75 202.5L340 203.12L341.25 206.25L344.5 193.75L346 195.91L347.5 200L348.75 203.47L350 207.5L353.75 181.25L356.25 197.5L358.75 171.5L361.25 202.5L365 190L367.5 171.25L368.75 173.95L370 175L371.25 195L373.25 124L375 190L376.25 198.75L377.5 196.62L378.75 192.5L382.5 159L385 190L386.25 189.59L387.5 190L388.75 193.21L390 197.5L391.25 202.56L392.5 207.5L393.25 115L395 200L396.25 200.47L397.5 201.25L399.38 199.42L401.25 193.75L402.5 194.01L403.75 197.5L406.25 163L408.75 195L410 198.75L411.25 198.92L412.5 200L416.25 162L418.75 175L420.75 112.5L422.5 185L423.75 186.83L425 190L426.25 195.02L427.5 200L429 197.66L430.5 192.5L432.12 192.46L433.75 190L435 194.22L436.25 197.5L437.5 198.85L438.75 201.25L440 199.16L441.25 196.25L442.5 196.87L443.75 195L445 197.75L446.25 200L447.5 200.37L448.75 197.5L450 194.36L451.25 195L452.5 190.01L453.75 185L456.25 197.5L457.75 203.55L459.25 206.25L462.5 51.5L465 185L466.88 189L468.75 192.5L470 196.21L471.25 197.5L472.5 187.5L474.38 190.67L476.25 195L477.5 199.47L478.75 200L482.5 178.75L485 200L486.25 196.26L487.5 195L488.75 190.75L490 186.25L493.75 200L495.75 143L498.75 202.5L500.75 74L502.5 187.5L504.38 191.04L506.25 192.5L508.75 205L510 182L511.25 187.93L512.5 190L514.5 205L516 200.96L517.5 197.5L518.75 203.04L520 206.25L521.25 203.73L522.5 200L525.5 182.5L528 202.5L529.25 198.21L530.5 192L533.75 207.5L535 205.17L536.25 200L538.12 203.5L540 207.5L541.88 204.42L543.75 202.5L547 169L550 205L551.67 206.52L553.33 205.28L555 206.25L556.67 205.28L558.33 205.93L560 207.5L561.25 209.95L562.5 212.5L565 191.25L568 208.75L572 40L574.5 215L577.5 201.25L580 215L582.5 179L585 215L586.5 212.49L588 210L589.62 206.24L591.25 205L593.12 211.77L595 215L596.67 214.84L598.33 218.66L600 218.75L601.88 213.75L603.75 210L605.62 215.18L607.5 217.5L611.25 205L613.12 211.49L615 215L620 202.5L621.88 205.12L623.75 210L625 204.3L626.25 202.5L628.12 207.64L630 212.5L631.25 210.26L632.5 205L633.75 170L635.75 56.5L637.5 180L640.5 99L642.5 172.5L643.75 168.77L645 162.5L646.25 181.25L648.75 124L650.5 175L652.5 113L654 182.5L656.25 151.25L658.75 175L660 190L662 162.5L665 177.5L667 178.75L668 53L670 180L672 188.75L673.75 148.75L675.5 180L678.75 137.5L680.5 182.5L683.25 130L685 175L686.88 178.2L688.75 180L690.5 135L693.75 186.25L696.5 131.5L698.75 175L700.62 174.12L702.5 175L707.5 196.25L710 180L713.75 158.75L716.25 193.75L718.75 157L721.25 190L723.12 191.37L725 188.75L727 173.75L730 190L731.88 190.73L733.75 192.5L737.5 44L738.75 156.25L740.75 98L743.75 157.5L745.75 165L747.5 190L749.38 192L751.25 192.5L753 182.5L755 197.5L756.88 199.99L758.75 201.25L763 124L764.5 200L766.62 198.75L768.75 198.75L771.25 170L773.75 200L775.62 204.04L777.5 206.25L779.38 203.85L781.25 200L783.12 205.78L785 208.75L786.88 206.44L788.75 205L792.5 140L795 207.5L796.88 203.6L798.75 201.25L800.62 204.26L802.5 210L804.58 208.28L806.67 208.7L808.75 206.25L810.62 211.07L812.5 213.75L814.38 212.45L816.25 213.81L818.12 211.84L820 213.75L821.25 210.32L822.5 205L825.5 190.5L827.5 213.75L829.38 212.56L831.25 211.25L832.5 206.94L833.75 199.5L835.38 205.78L837 210L838.75 210L840 213.09L841.25 217.5L845 199.5L847.5 216.25L849.38 214.46L851.25 212.5L852.5 214.46L853.75 220L857.5 207.5L859.38 212.85L861.25 216.25L863.75 193.75L866.25 218.75L868.75 187.5L872.5 205L874.5 220L876.25 190L878 200L879.5 111.5L881.25 200L883.25 108L884.5 200L885.75 141.25L887.5 160L889.5 222.5L890.75 166.25L892.5 182.5L893.75 222.5L895 180L897.5 222.5L899.5 182.5L900.5 222.5L902.5 95L905 165L906.25 173.75L908.75 105L910.5 90L913 147.5L917 183.75L918 147.5L920 167.5L921.25 170.02L922.5 175L924.5 165L926.5 141.5L928 180L929.5 165L930.5 170L932.25 98L934.5 191.25L937.5 157.5L940.75 61.5L943.75 182.5L945.62 180.56L947.5 181.25L948.75 181.75L950 185L951.88 182.06L953.75 177.5L957.5 192.5L960 177.5L961.88 181.23L963.75 187.5L965 185.75L966.25 185L968.75 166.25L971.25 195L974 122.5L976.25 195L978.12 193.86L980 192.5L981.88 194.18L983.75 197.5L985.5 172.5L987.5 185L989.5 168L992 200L993.5 199.56L995 197.5L996.5 193.46L998 185.5L1001.25 198.75L1003.12 193.19L1005 190L1007.5 208.75L1009.38 205.98L1011.25 201.25L1013.12 202.06L1015 203.75L1016.88 207.33L1018.75 207.5L1020 210.05L1021.25 210L1022.5 206.11L1023.75 202.5L1026.25 174.25L1028.75 215L1031.25 202.5L1033.75 217.5L1035 213.16L1036.25 206.25L1038.12 210.36L1040 216.25L1041.25 212.49L1042.5 212.5L1044.38 214.44L1046.25 216.25L1047.5 212.45L1048.75 212.5L1051.25 193.25L1053.75 215L1055.38 217.72L1057 218.75L1060.5 202L1063.75 215L1065.38 216.05L1067 216.25L1068.5 214.32L1070 209.5L1071.88 213.25L1073.75 220L1075.62 217.74L1077.5 218.25L1079.38 219.26L1081.25 220L1083.12 220.01L1085 221.25L1086.25 217.86L1087.5 216.75L1089.38 217.79L1091.25 221.75L1092.94 220.7L1094.62 222.95L1096.31 222.66L1098 224.5L1099.5 185L1102 165L1103.75 185L1105.5 225L1107.5 180L1110 158L1112.5 172.5L1116.25 155L1118.25 180L1120 183.75L1122 86.5L1123.75 167.5L1125 100L1127.5 162.5L1130 185L1131.75 86.5L1133.25 172.5L1134.25 114L1135.5 136.25L1137.5 202.5L1139 130.5L1140.75 200L1142.5 190L1144.5 143.75L1146.25 200L1147.5 201.13L1148.75 201.25L1150 194.24L1151.25 190L1153.75 202.5L1157 188.75L1159.5 205L1161.25 202L1164.5 187.5L1167.5 207.5L1168.75 204.83L1170 200L1171.25 203.38L1172.5 208.75L1173.75 202.87L1175 200L1176.88 204.84L1178.75 208.75L1182 196.25L1187.25 159.25L1189.75 210L1191 188.75L1193.5 208.75L1195.38 208.6L1197.25 205L1198.5 204.84L1199.75 202L1202.25 215L1204.12 214.32L1206 217.5L1207.25 211.99L1208.5 208.75L1209.75 208.28L1211 210L1212.5 193L1214.75 215L1216.62 217.67L1218.5 217.5L1219.75 219.24L1221 221.25L1222.25 215L1224.12 215.9L1226 220L1227.67 218.83L1229.33 221.89L1231 221.25L1232.5 217.21L1234 209.5L1236 218.75L1237.25 216.78L1238.5 213.75L1240.38 217.64L1242.25 218.75L1244.12 218.97L1246 220L1247.67 221.68L1249.33 221.88L1251 222L1252.67 223.52L1254.33 223.47L1256 223.25L1257.67 224.38L1259.33 222.34L1261 224.5L1263 211.25L1265.5 224.5L1267.25 195L1270.25 156.5L1271.75 191.25L1274.75 165L1276 163.63L1277.25 165L1279.75 192.5L1281 180L1282.25 195L1284.5 125L1286.5 180L1288.5 192.5L1289.75 192.67L1291 191.25L1292.25 183.75L1294 86.5L1295.5 185L1297.25 186.25L1299 200L1300.5 186.25L1302.25 179.5L1304 201.25L1306 193.75L1307.25 216.25L1308.5 213.03L1309.75 212.5L1311.62 212.17L1313.5 215L1315.17 211.87L1316.83 211.18L1318.5 211.25L1320 207.8L1321.5 207.56L1323 204.5L1326 217.5L1327.67 217.77L1329.33 215.87L1331 216.25L1332.67 212.22L1334.33 213.66L1336 209.5L1337.88 213.78L1339.75 220L1341.62 218.1L1343.5 214.5L1345.38 216.45L1347.25 216.25L1349.12 216.32L1351 215L1352.67 214.71L1354.33 216.33L1356 218L1357.88 220.28L1359.75 221.25L1361.38 215.86L1363 213.75L1364.5 219L1366 221.25L1368 195.5L1369.75 220L1371.62 218.53L1373.5 218.75L1376 205.5L1378.5 220L1380.38 221.59L1382.25 219.5L1384.12 222.6L1386 222.5L1387.88 224.4L1389.75 223.25L1391.62 222.33L1393.5 218.75L1395.38 218.78L1397.25 222.5L1399.12 221.51L1401 222.5L1402.25 223.6L1403.5 223.75L1406 201.25L1408.5 216.25L1410.25 185L1412.25 216.25L1413.92 216.57L1415.58 216.52L1417.25 215L1421.75 191.25L1423.5 210L1427.25 191.25L1428.5 189.93L1429.75 192.5L1433 216.25L1435.5 191.25L1437.25 215L1438.5 210.95L1439.75 203.75L1441.38 208.68L1443 212.5L1444.25 211.51L1445.5 210L1447.25 216.25L1449.12 215.72L1451 212L1452.67 213.26L1454.33 210.31L1456 210L1457.88 208.19L1459.75 207.5L1461 208.75L1462.75 25L1464 216.25L1465.5 174L1467.75 208.75" fill="none" stroke-linejoin="round"/><path id="tr100" d="M119.5 223.75L121.33 221.92L123.17 222.74L125 222.5L126.67 223.17L128.33 222.49L130 221.25L131.67 222.43L133.33 221.48L135 222L136.67 222.37L138.33 220.46L140 219.5L141.88 215.82L143.75 215.5L145 222.5L146.67 221.91L148.33 219.86L150 221.25L151.88 222.11L153.75 219.5L155.62 222.79L157.5 222.5L159.17 221.17L160.83 220.4L162.5 220.5L164.17 222.07L165.83 220.32L167.5 222L169.17 219.88L170.83 219.09L172.5 219.5L174.17 219.47L175.83 221.17L177.5 221.25L179.38 220.6L181.25 216.25L182.5 217.97L183.75 222L185.62 222.57L187.5 219.5L189.17 220.05L190.83 221.77L192.5 220.5L194.17 221.19L195.83 217.98L197.5 218.75L199.17 219.59L200.83 217.75L202.5 219.5L204.17 217.69L205.83 219.42L207.5 220L210 206.25L212.5 220L216.25 205L218.75 220.5L220 221.09L221.25 219.5L223.75 145.5L226.25 220L227.5 220.01L228.75 219.5L230 213.52L231.25 210L232.5 207.86L233.75 203L236.25 220L237.75 222.91L239.25 221.45L240.75 223.75L243.75 203L245 207.54L246.25 212.5L248.12 210.55L250 207.5L251.88 207.86L253.75 205L255.38 197.51L257 193L258.5 198.59L260 203.75L261.25 208.75L262.5 210L265 197.5L266.5 202.94L268 207.5L269.62 205.87L271.25 202.5L273.12 199.85L275 195L278.75 207.5L280.62 203.78L282.5 200L283.75 202.91L285 207.5L288 155L291.25 205L292.5 206.61L293.75 207.5L295.62 203.24L297.5 198.75L298.75 201.25L300 205L301.88 210.79L303.75 213.75L307.5 192.5L308.75 194.45L310 197.5L314.5 185L317.5 200L318.75 202.43L320 205L321.67 202.05L323.33 198.26L325 193L326.25 198.06L327.5 200L328.75 203.73L330 206.25L331.88 200.89L333.75 197.5L335 193.26L336.25 186.25L338.75 202.5L340 206.01L341.25 206.25L344.5 193.75L346 197.73L347.5 200L348.75 204.82L350 207.5L353.75 181.25L356.25 197.5L358.75 166.5L361.25 202.5L365 190L367.5 171.25L368.75 173.18L370 175L371.25 195L373.25 111.5L375 190L376.25 198.75L377.5 195.6L378.75 192.5L382.5 159L385 190L386.25 190.33L387.5 190L388.75 192.34L390 197.5L391.25 203.2L392.5 207.5L393.25 131.5L395 200L396.25 202.07L397.5 201.25L399.38 196.16L401.25 193.75L402.5 196.64L403.75 197.5L406.25 161.5L408.75 195L410 198.75L411.25 200.2L412.5 200L416.25 162L418.75 175L420.75 86.5L422.5 185L423.75 185.98L425 190L426.25 193.2L427.5 200L429 196.63L430.5 192.5L432.12 190.13L433.75 190L435 192.99L436.25 197.5L437.5 199.86L438.75 201.25L440 199.35L441.25 196.25L442.5 196.62L443.75 195L445 197.77L446.25 200L447.5 198.08L448.75 197.5L450 194.3L451.25 195L452.5 188.46L453.75 185L456.25 197.5L457.75 200.65L459.25 206.25L462.5 72.5L465 185L466.88 188.85L468.75 192.5L470 195.88L471.25 197.5L472.5 187.5L474.38 190.09L476.25 195L477.5 197.06L478.75 200L482.5 178.75L485 200L486.25 199.25L487.5 195L488.75 190.23L490 186.25L493.75 200L495.75 140L498.75 202.5L500.75 59L502.5 187.5L504.38 190.85L506.25 192.5L508.75 205L510 182L511.25 186.47L512.5 190L514.5 205L516 201.89L517.5 197.5L518.75 201.78L520 206.25L521.25 203.31L522.5 200L525.5 182.5L528 202.5L529.25 198.05L530.5 192L533.75 207.5L535 202.39L536.25 200L538.12 204.95L540 207.5L541.88 206.49L543.75 202.5L547 174L550 205L551.67 203.61L553.33 204.63L555 206.25L556.67 205.66L558.33 205.46L560 207.5L561.25 208.56L562.5 212.5L565 191.25L568 208.75L572 27.5L574.5 215L577.5 201.25L580 215L582.5 177.5L585 215L586.5 213.07L588 210L589.62 205.99L591.25 205L593.12 208.27L595 215L596.67 218.03L598.33 217.11L600 218.75L601.88 214.54L603.75 210L605.62 213.65L607.5 217.5L611.25 205L613.12 209.37L615 215L620 202.5L621.88 206.07L623.75 210L625 205.03L626.25 202.5L628.12 207.82L630 212.5L631.25 207.75L632.5 205L633.75 170L635.75 56.5L637.5 180L640.5 100L642.5 172.5L643.75 166.08L645 162.5L646.25 181.25L648.75 104L650.5 175L652.5 103L654 182.5L656.25 151.25L658.75 175L660 190L662 162.5L665 177.5L667 178.75L668 40.5L670 180L672 188.75L673.75 148.75L675.5 180L678.75 137.5L680.5 182.5L683.25 111.5L685 175L686.88 176.33L688.75 180L690.5 135L693.75 186.25L696.5 125L698.75 175L700.62 174.65L702.5 175L707.5 196.25L710 180L713.75 158.75L716.25 193.75L718.75 157L721.25 190L723.12 191.1L725 188.75L727 173.75L730 190L731.88 191.64L733.75 192.5L737.5 25.5L738.75 156.25L740.75 63L743.75 157.5L745.75 165L747.5 190L749.38 193.17L751.25 192.5L753 182.5L755 197.5L756.88 198.98L758.75 201.25L763 123L764.5 200L766.62 198.42L768.75 198.75L771.25 170L773.75 200L775.62 203.97L777.5 206.25L779.38 201.89L781.25 200L783.12 206.37L785 208.75L786.88 206.44L788.75 205L792.5 131.5L795 207.5L796.88 203.46L798.75 201.25L800.62 204.71L802.5 210L804.58 207.97L806.67 209.25L808.75 206.25L810.62 211.97L812.5 213.75L814.38 213.98L816.25 212.68L818.12 211.79L820 213.75L821.25 207.69L822.5 205L825.5 190.5L827.5 213.75L829.38 211.69L831.25 211.25L832.5 205.95L833.75 199.5L835.38 205.26L837 210L838.75 210L840 215.16L841.25 217.5L845 199.5L847.5 216.25L849.38 215.66L851.25 212.5L852.5 215.66L853.75 220L857.5 207.5L859.38 212.57L861.25 216.25L863.75 193.75L866.25 218.75L868.75 187.5L872.5 205L874.5 220L876.25 190L878 200L879.5 91.5L881.25 200L883.25 63L884.5 200L885.75 141.25L887.5 160L889.5 222.5L890.75 166.25L892.5 182.5L893.75 222.5L895 180L897.5 222.5L899.5 182.5L900.5 222.5L902.5 70.5L905 165L906.25 173.75L908.75 105L910.5 103L913 147.5L917 183.75L918 147.5L920 167.5L921.25 171.03L922.5 175L924.5 165L926.5 123L928 180L929.5 165L930.5 170L932.25 78L934.5 191.25L937.5 157.5L940.75 51.5L943.75 182.5L945.62 182.79L947.5 181.25L948.75 181.86L950 185L951.88 183.16L953.75 177.5L957.5 192.5L960 177.5L961.88 180.59L963.75 187.5L965 186.72L966.25 185L968.75 166.25L971.25 195L974 125L976.25 195L978.12 193.16L980 192.5L981.88 196.2L983.75 197.5L985.5 172.5L987.5 185L989.5 168L992 200L993.5 197.32L995 197.5L996.5 193.06L998 185.5L1001.25 198.75L1003.12 192.39L1005 190L1007.5 208.75L1009.38 205.94L1011.25 201.25L1013.12 203.31L1015 203.75L1016.88 205.65L1018.75 207.5L1020 207.45L1021.25 210L1022.5 205.78L1023.75 202.5L1026.25 174.25L1028.75 215L1031.25 202.5L1033.75 217.5L1035 211.66L1036.25 206.25L1038.12 210.1L1040 216.25L1041.25 213.02L1042.5 212.5L1044.38 215.74L1046.25 216.25L1047.5 214.57L1048.75 212.5L1051.25 193.25L1053.75 215L1055.38 215.96L1057 218.75L1060.5 202L1063.75 215L1065.38 216.13L1067 216.25L1068.5 213.41L1070 209.5L1071.88 213.29L1073.75 220L1075.62 219.46L1077.5 218.25L1079.38 219.46L1081.25 220L1083.12 219.07L1085 221.25L1086.25 218.2L1087.5 216.75L1089.38 220.7L1091.25 221.75L1092.94 222.75L1094.62 222.02L1096.31 223.39L1098 224.5L1099.5 185L1102 149L1103.75 185L1105.5 225L1107.5 180L1110 158L1112.5 172.5L1116.25 138L1118.25 180L1120 183.75L1122 114L1123.75 167.5L1125 56.5L1127.5 162.5L1130 185L1131.75 97.5L1133.25 172.5L1134.25 109L1135.5 136.25L1137.5 202.5L1139 118L1140.75 200L1142.5 190L1144.5 143.75L1146.25 200L1147.5 200.46L1148.75 201.25L1150 196.46L1151.25 190L1153.75 202.5L1157 188.75L1159.5 205L1161.25 202L1164.5 187.5L1167.5 207.5L1168.75 205.19L1170 200L1171.25 202.72L1172.5 208.75L1173.75 202.56L1175 200L1176.88 204.14L1178.75 208.75L1182 196.25L1187.25 159.25L1189.75 210L1191 188.75L1193.5 208.75L1195.38 204.95L1197.25 205L1198.5 202.12L1199.75 202L1202.25 215L1204.12 214.67L1206 217.5L1207.25 211.48L1208.5 208.75L1209.75 209.88L1211 210L1212.5 193L1214.75 215L1216.62 214.63L1218.5 217.5L1219.75 219.64L1221 221.25L1222.25 215L1224.12 219.36L1226 220L1227.67 218.98L1229.33 221.87L1231 221.25L1232.5 215.71L1234 209.5L1236 218.75L1237.25 214.93L1238.5 213.75L1240.38 218.05L1242.25 218.75L1244.12 220.32L1246 220L1247.67 220.18L1249.33 222.89L1251 222L1252.67 220.83L1254.33 224.17L1256 223.25L1257.67 225.04L1259.33 222.55L1261 224.5L1263 211.25L1265.5 224.5L1267.25 195L1270.25 133L1271.75 191.25L1274.75 165L1276 166.66L1277.25 165L1279.75 192.5L1281 180L1282.25 195L1284.5 95L1286.5 180L1288.5 192.5L1289.75 193.01L1291 191.25L1292.25 183.75L1294 59L1295.5 185L1297.25 186.25L1299 200L1300.5 186.25L1302.25 179.5L1304 201.25L1306 193.75L1307.25 216.25L1308.5 216.03L1309.75 212.5L1311.62 212.88L1313.5 215L1315.17 214.7L1316.83 213.62L1318.5 211.25L1320 208.39L1321.5 204.89L1323 204.5L1326 217.5L1327.67 215.14L1329.33 216.69L1331 216.25L1332.67 214.19L1334.33 210.25L1336 209.5L1337.88 215.27L1339.75 220L1341.62 215.46L1343.5 214.5L1345.38 215.29L1347.25 216.25L1349.12 215.67L1351 215L1352.67 214.81L1354.33 215.19L1356 218L1357.88 221.24L1359.75 221.25L1361.38 218.91L1363 213.75L1364.5 217.85L1366 221.25L1368 195.5L1369.75 220L1371.62 217.49L1373.5 218.75L1376 205.5L1378.5 220L1380.38 219.85L1382.25 219.5L1384.12 222.85L1386 222.5L1387.88 223.94L1389.75 223.25L1391.62 221.75L1393.5 218.75L1395.38 218.78L1397.25 222.5L1399.12 222.81L1401 222.5L1402.25 222.06L1403.5 223.75L1406 201.25L1408.5 216.25L1410.25 185L1412.25 216.25L1413.92 217.78L1415.58 213.46L1417.25 215L1421.75 191.25L1423.5 210L1427.25 191.25L1428.5 190.77L1429.75 192.5L1433 216.25L1435.5 191.25L1437.25 215L1438.5 210.89L1439.75 203.75L1441.38 206.61L1443 212.5L1444.25 210.45L1445.5 210L1447.25 216.25L1449.12 213.35L1451 212L1452.67 212.86L1454.33 211.45L1456 210L1457.88 210.49L1459.75 207.5L1461 208.75L1462.75 49L1464 216.25L1465.5 171.5L1467.75 208.75" fill="none" stroke-linejoin="round"/></defs>
<use href="#tr1" transform="translate(0 0)" stroke="#000000" stroke-width="2.8"/>
<text class="it" x="136.5" y="87.3" font-size="61.5" fill="#000000">#1</text>
<use href="#tr25" transform="translate(0 201)" stroke="#45377f" stroke-width="2.8"/>
<text class="it" x="136.5" y="289.8" font-size="61.5" fill="#45377f">#25</text>
<use href="#tr50" transform="translate(0 402)" stroke="#32658e" stroke-width="2.8"/>
<text class="it" x="136.5" y="492.8" font-size="61.5" fill="#32658e">#50</text>
<use href="#tr75" transform="translate(0 603)" stroke="#228c8d" stroke-width="2.8"/>
<text class="it" x="136.5" y="695.8" font-size="61.5" fill="#228c8d">#75</text>
<use href="#tr100" transform="translate(0 804)" stroke="#35b779" stroke-width="2.8"/>
<text class="it" x="136.5" y="898.8" font-size="61.5" fill="#35b779">#100</text>
<use href="#tr1" transform="translate(0 1006.3)" stroke="#000000" stroke-width="4.0"/>
<use href="#tr25" transform="translate(0 1005.9)" stroke="#45377f" stroke-width="4.0"/>
<use href="#tr50" transform="translate(0 1005.6)" stroke="#32658e" stroke-width="4.0"/>
<use href="#tr75" transform="translate(0 1005.3)" stroke="#228c8d" stroke-width="4.0"/>
<use href="#tr100" transform="translate(0 1005)" stroke="#35b779" stroke-width="4.0"/>
<text class="it" x="136.5" y="1101.3" font-size="60" fill="#000">overlay</text>
<line x1="96" y1="1280.4" x2="1501.4" y2="1280.4" stroke="#000" stroke-width="3"/>
<line x1="275.1" y1="1281" x2="275.1" y2="1305.2" stroke="#000" stroke-width="3.1" stroke-linecap="round"/>
<text class="lab" x="275.1" y="1371.2" font-size="44.5" text-anchor="middle">100</text>
<line x1="496.44" y1="1281" x2="496.44" y2="1305.2" stroke="#000" stroke-width="3.1" stroke-linecap="round"/>
<text class="lab" x="496.44" y="1371.2" font-size="44.5" text-anchor="middle">150</text>
<line x1="717.78" y1="1281" x2="717.78" y2="1305.2" stroke="#000" stroke-width="3.1" stroke-linecap="round"/>
<text class="lab" x="717.78" y="1371.2" font-size="44.5" text-anchor="middle">200</text>
<line x1="939.12" y1="1281" x2="939.12" y2="1305.2" stroke="#000" stroke-width="3.1" stroke-linecap="round"/>
<text class="lab" x="939.12" y="1371.2" font-size="44.5" text-anchor="middle">250</text>
<line x1="1160.46" y1="1281" x2="1160.46" y2="1305.2" stroke="#000" stroke-width="3.1" stroke-linecap="round"/>
<text class="lab" x="1160.46" y="1371.2" font-size="44.5" text-anchor="middle">300</text>
<line x1="1381.8" y1="1281" x2="1381.8" y2="1305.2" stroke="#000" stroke-width="3.1" stroke-linecap="round"/>
<text class="lab" x="1381.8" y="1371.2" font-size="44.5" text-anchor="middle">350</text>
<text class="it" x="825" y="1455.5" font-size="49" word-spacing="3" text-anchor="middle">Time (seconds)</text>
<text class="it" transform="translate(64.7 671.8) rotate(-90)" x="0" y="0" font-size="50" text-anchor="middle">Relative Intensity</text>
<path d="M273 1718L281.08 1712.5L289.17 1697.5L297.25 1680.5L305.34 1696.25L313.43 1735L321.51 1682.5L329.6 1661.25L337.68 1655.75L345.76 1658.75L353.85 1656.25L361.94 1671.25L370.02 1775L378.11 1720L386.19 1712.5L394.27 1681.25L402.36 1702.5L410.45 1701.25L418.53 1708.75L426.62 1715.5L434.7 1701.25L442.79 1682.5L450.87 1665L458.96 1659.5L467.04 1635L475.12 1652L483.21 1750L491.3 1723.75L499.38 1698.25L507.47 1697L515.55 1693.75L523.63 1701.25L531.72 1691.25L539.81 1727L547.89 1706.25L555.98 1669.5L564.06 1657L572.14 1658L580.23 1661.25L588.32 1660L596.4 1752L604.49 1745L612.57 1725L620.65 1724.5L628.74 1703.75L636.83 1696.25L644.91 1698L653 1732L661.08 1697.5L669.16 1678.75L677.25 1682.5L685.34 1675L693.42 1667.5L701.51 1660L709.59 1720L717.68 1743L725.76 1748.75L733.85 1720L741.93 1696.25L750.02 1688.75L758.1 1707.5L766.19 1725L774.27 1706.25L782.36 1690L790.44 1678.75L798.53 1657L806.61 1670.5L814.7 1657.5L822.78 1676.25L830.87 1773.75L838.95 1732.5L847.04 1722.5L855.12 1718.75L863.21 1712.5L871.29 1697.5L879.38 1690L887.46 1709.5L895.55 1682L903.63 1675.5L911.72 1694.5L919.8 1686.25L927.89 1677.5L935.97 1683.75L944.06 1771.25L952.14 1745L960.23 1737.5L968.31 1722.5L976.4 1707.5L984.48 1718L992.57 1718.75L1000.65 1748.75L1008.74 1695L1016.82 1685L1024.91 1682.5L1032.99 1698.75L1041.08 1680.5L1049.16 1683.75L1057.25 1783.75L1065.33 1767.5L1073.41 1731.25" fill="none" stroke="#1f77b4" stroke-width="5" stroke-linejoin="round" stroke-linecap="square"/>
<rect x="233.5" y="1623.5" width="879.8" height="837.8" fill="none" stroke="#000" stroke-width="3"/>
<line x1="220.5" y1="2461.5" x2="233.5" y2="2461.5" stroke="#000" stroke-width="3"/>
<text class="dv" x="206.7" y="2475.7" font-size="38" text-anchor="end">0</text>
<line x1="220.5" y1="2362.89" x2="233.5" y2="2362.89" stroke="#000" stroke-width="3"/>
<text class="dv" x="206.7" y="2377.09" font-size="38" text-anchor="end">200</text>
<line x1="220.5" y1="2264.28" x2="233.5" y2="2264.28" stroke="#000" stroke-width="3"/>
<text class="dv" x="206.7" y="2278.48" font-size="38" text-anchor="end">400</text>
<line x1="220.5" y1="2165.66" x2="233.5" y2="2165.66" stroke="#000" stroke-width="3"/>
<text class="dv" x="206.7" y="2179.86" font-size="38" text-anchor="end">600</text>
<line x1="220.5" y1="2067.05" x2="233.5" y2="2067.05" stroke="#000" stroke-width="3"/>
<text class="dv" x="206.7" y="2081.25" font-size="38" text-anchor="end">800</text>
<line x1="220.5" y1="1968.44" x2="233.5" y2="1968.44" stroke="#000" stroke-width="3"/>
<text class="dv" x="206.7" y="1982.64" font-size="38" text-anchor="end">1000</text>
<line x1="220.5" y1="1869.83" x2="233.5" y2="1869.83" stroke="#000" stroke-width="3"/>
<text class="dv" x="206.7" y="1884.03" font-size="38" text-anchor="end">1200</text>
<line x1="220.5" y1="1771.22" x2="233.5" y2="1771.22" stroke="#000" stroke-width="3"/>
<text class="dv" x="206.7" y="1785.42" font-size="38" text-anchor="end">1400</text>
<line x1="220.5" y1="1672.6" x2="233.5" y2="1672.6" stroke="#000" stroke-width="3"/>
<text class="dv" x="206.7" y="1686.8" font-size="38" text-anchor="end">1600</text>
<line x1="273" y1="2461.3" x2="273" y2="2474.3" stroke="#000" stroke-width="3"/>
<text class="dv" x="273" y="2517.5" font-size="38" text-anchor="middle">0</text>
<line x1="434.7" y1="2461.3" x2="434.7" y2="2474.3" stroke="#000" stroke-width="3"/>
<text class="dv" x="434.7" y="2517.5" font-size="38" text-anchor="middle">20</text>
<line x1="596.4" y1="2461.3" x2="596.4" y2="2474.3" stroke="#000" stroke-width="3"/>
<text class="dv" x="596.4" y="2517.5" font-size="38" text-anchor="middle">40</text>
<line x1="758.1" y1="2461.3" x2="758.1" y2="2474.3" stroke="#000" stroke-width="3"/>
<text class="dv" x="758.1" y="2517.5" font-size="38" text-anchor="middle">60</text>
<line x1="919.8" y1="2461.3" x2="919.8" y2="2474.3" stroke="#000" stroke-width="3"/>
<text class="dv" x="919.8" y="2517.5" font-size="38" text-anchor="middle">80</text>
<line x1="1081.5" y1="2461.3" x2="1081.5" y2="2474.3" stroke="#000" stroke-width="3"/>
<text class="dv" x="1081.5" y="2517.5" font-size="38" text-anchor="middle">100</text>
<text class="dv" x="673" y="2567" font-size="38" text-anchor="middle">run number</text>
<text class="dv" transform="translate(85.2 2041.5) rotate(-90)" x="0" y="0" font-size="38.5" text-anchor="middle">peptide identifications</text>
<rect x="1230.8" y="1623.5" width="293" height="837.8" fill="none" stroke="#000" stroke-width="3"/>
<line x1="1217.8" y1="2461.5" x2="1230.8" y2="2461.5" stroke="#000" stroke-width="3"/>
<line x1="1217.8" y1="2362.89" x2="1230.8" y2="2362.89" stroke="#000" stroke-width="3"/>
<line x1="1217.8" y1="2264.28" x2="1230.8" y2="2264.28" stroke="#000" stroke-width="3"/>
<line x1="1217.8" y1="2165.66" x2="1230.8" y2="2165.66" stroke="#000" stroke-width="3"/>
<line x1="1217.8" y1="2067.05" x2="1230.8" y2="2067.05" stroke="#000" stroke-width="3"/>
<line x1="1217.8" y1="1968.44" x2="1230.8" y2="1968.44" stroke="#000" stroke-width="3"/>
<line x1="1217.8" y1="1869.83" x2="1230.8" y2="1869.83" stroke="#000" stroke-width="3"/>
<line x1="1217.8" y1="1771.22" x2="1230.8" y2="1771.22" stroke="#000" stroke-width="3"/>
<line x1="1217.8" y1="1672.6" x2="1230.8" y2="1672.6" stroke="#000" stroke-width="3"/>
<line x1="1376.9" y1="2461.3" x2="1376.9" y2="2474.3" stroke="#000" stroke-width="3"/>
<rect x="1354.9" y="1680.2" width="44.4" height="40.2" fill="none" stroke="#000" stroke-width="3.2"/>
<line x1="1353.4" y1="1697.8" x2="1400.9" y2="1697.8" stroke="#ff7f0e" stroke-width="3.2"/>
<line x1="1377.4" y1="1635.5" x2="1377.4" y2="1680.2" stroke="#000" stroke-width="3.2"/>
<line x1="1377.4" y1="1720.4" x2="1377.4" y2="1775.8" stroke="#000" stroke-width="3.2"/>
<line x1="1364.6" y1="1635.5" x2="1390.1" y2="1635.5" stroke="#000" stroke-width="3.2"/>
<line x1="1364.6" y1="1775.8" x2="1390.1" y2="1775.8" stroke="#000" stroke-width="3.2"/>
<circle cx="1377.4" cy="1785.5" r="11.5" fill="none" stroke="#000" stroke-width="3.8"/>
<text class="lab" x="1388.6" y="2527.3" font-size="56" text-anchor="middle">boxplot</text>
</svg></body></html>
